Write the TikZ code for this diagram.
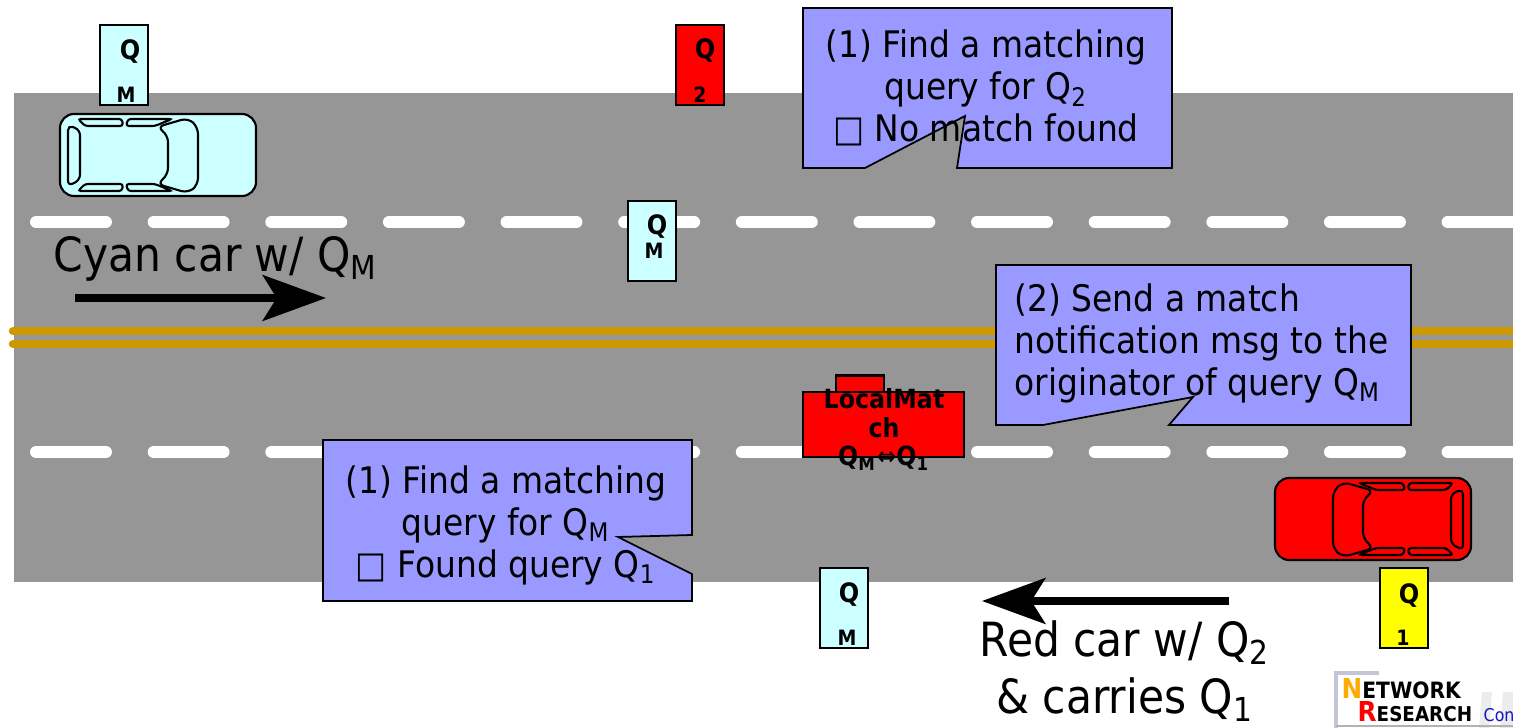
\documentclass[tikz,border=0pt]{standalone}
\usepackage{fontspec}
\setmainfont{DejaVu Sans}[FakeStretch=0.9]
\usetikzlibrary{arrows.meta}

\definecolor{roadgray}{RGB}{150,150,150}
\definecolor{laneyellow}{RGB}{204,153,0}
\definecolor{carcyan}{RGB}{204,255,255}
\definecolor{carred}{RGB}{255,0,0}
\definecolor{tagyellow}{RGB}{255,255,0}
\definecolor{calloutblue}{RGB}{153,153,255}
\definecolor{logoorange}{RGB}{255,170,0}
\definecolor{logoframe}{RGB}{195,198,212}
\definecolor{logoblue}{RGB}{20,20,200}

\tikzset{
  % top view of a car, front pointing to +x
  car/.pic={
    \path[pic actions, rounded corners=4pt] (-98,-41) rectangle (98,41);
    \path[pic actions, rounded corners=1.5pt] (-90,-30) -- (-78,-25) -- (-78,25) -- (-90,31) -- cycle;
    \path[pic actions, rounded corners=0.8pt] (-80,-36) -- (-36,-36) -- (-35,-29) -- (-73,-29) -- cycle;
    \path[pic actions, rounded corners=0.8pt] (-30,-36) -- (14,-36) -- (-3,-29) -- (-32,-29) -- cycle;
    \path[pic actions, rounded corners=0.8pt] (-80,36) -- (-36,36) -- (-35,29) -- (-73,29) -- cycle;
    \path[pic actions, rounded corners=0.8pt] (-30,36) -- (14,36) -- (-3,29) -- (-32,29) -- cycle;
    \path[pic actions, rounded corners=2pt] (-1,-28) -- (10,-20) -- (10,20) -- (-1,29) -- (30,38) -- (40,30) -- (40,-28) -- (30,-37) -- cycle;
  },
  qtag/.style={draw,line width=0.6pt,minimum width=0.48cm,minimum height=0.8cm,inner sep=0pt},
  qletter/.style={font=\bfseries\fontsize{7.6}{8}\selectfont,inner sep=0pt},
  qindex/.style={font=\bfseries\fontsize{6}{6}\selectfont,inner sep=0pt},
  callout/.style={draw,fill=calloutblue,line width=0.5pt},
  calltext/.style={font=\fontsize{10.4}{11.9}\selectfont,inner sep=0pt},
  bigtext/.style={font=\fontsize{13.4}{16.2}\selectfont,inner sep=0pt},
  movearrow/.style={line width=2pt,-{Stealth[length=18pt,width=13pt,inset=4pt]}},
  lanemark/.style={white,line width=3.4pt,line cap=round,dash pattern=on 19.9pt off 13.55pt},
  centerline/.style={laneyellow,line width=2.4pt,line cap=round},
}

\begin{document}
\begin{tikzpicture}[x=0.01cm,y=-0.01cm]
\useasboundingbox (0,0) rectangle (1513,728);

% road
\fill[roadgray] (14,93) rectangle (1520,582);
\draw[centerline] (13,331) -- (1525,331);
\draw[centerline] (13,344) -- (1525,344);
\draw[lanemark] (36,222) -- (1525,222);
\draw[lanemark] (36,452) -- (1525,452);

% cars
\pic[fill=carcyan,draw=black,line width=0.6pt] (cyanCar) at (158,155) {car};
\pic[fill=carred,draw=black,line width=0.6pt,xscale=-1] (redCar) at (1373,519) {car};

% query tags
\node[qtag,fill=carcyan] (tagA) at (124,65) {};
\node[qletter] (tagAq) at (130,52) {Q};
\node[qindex] (tagAs) at (126,95) {M};

\node[qtag,fill=carred] (tagB) at (700,65) {};
\node[qletter] (tagBq) at (705,51) {Q};
\node[qindex] (tagBs) at (700,95) {2};

\node[qtag,fill=carcyan] (tagC) at (652,241) {};
\node[qletter] (tagCq) at (657,227) {Q};
\node[qindex] (tagCs) at (654,251) {M};

\node[qtag,fill=carcyan] (tagD) at (844,608) {};
\node[qletter] (tagDq) at (849,595) {Q};
\node[qindex] (tagDs) at (847,638) {M};

\node[qtag,fill=tagyellow] (tagE) at (1404,608) {};
\node[qletter] (tagEq) at (1409,596) {Q};
\node[qindex] (tagEs) at (1403,638) {1};

% local match marker
\node[draw,fill=carred,line width=0.6pt,minimum width=0.48cm,minimum height=0.17cm,inner sep=0pt] (matchTab) at (860,384) {};
\node[draw,fill=carred,line width=0.6pt,minimum width=1.61cm,minimum height=0.65cm,inner sep=0pt] (matchBox) at (883.5,424.5) {};
\node[anchor=north,align=center,inner sep=0pt,font=\bfseries\fontsize{7.5}{8.1}\selectfont] (matchText) at (884,388)
  {LocalMat\\ch\\Q\textsubscript{M}{\mdseries ⇔}Q\textsubscript{1}};

% callouts
\draw[callout] (803,8) -- (1172,8) -- (1172,168) -- (957,168) -- (965,116) -- (865,168) -- (803,168) -- cycle;
\node[calltext,anchor=north,align=center] (askTwo) at (986,29)
  {(1) Find a matching\\query for Q\textsubscript{2}\\□ No match found};

\draw[callout] (996,265) -- (1411,265) -- (1411,425) -- (1169,425) -- (1193,397) -- (1043,425) -- (996,425) -- cycle;
\node[calltext,anchor=north west,align=left] (notify) at (1014,283)
  {(2) Send a match\\notification msg to the\\originator of query Q\textsubscript{M}};

\draw[callout] (323,440) -- (692,440) -- (692,535) -- (618,537) -- (692,574) -- (692,601) -- (323,601) -- cycle;
\node[calltext,anchor=north,align=center] (askM) at (506,465)
  {(1) Find a matching\\query for Q\textsubscript{M}\\□ Found query Q\textsubscript{1}};

% driving directions
\coordinate (cyanFrom) at (75,298);
\coordinate (cyanTo) at (326,298);
\draw[movearrow] (cyanFrom) -- (cyanTo);
\node[bigtext,anchor=base west] (cyanLabel) at (53,272) {Cyan car w/ Q\textsubscript{M}};

\coordinate (redFrom) at (1229,601);
\coordinate (redTo) at (982,601);
\draw[movearrow] (redFrom) -- (redTo);
\node[bigtext,anchor=north,align=center] (redLabel) at (1125,620) {Red car w/ Q\textsubscript{2}\\\& carries Q\textsubscript{1}};

% logo corner
\fill[gray!15] (1482,692) -- (1492,692) -- (1489,728) -- (1479,728) -- cycle;
\fill[gray!15] (1503,692) -- (1513,692) -- (1513,728) -- (1500,728) -- cycle;
\draw[logoframe,line width=1pt] (1336,728) -- (1336,673) -- (1379,673);
\draw[gray!60,line width=0.8pt] (1336,726) -- (1513,726);
\node[anchor=base west,inner sep=0pt,font=\bfseries\fontsize{6.4}{6.4}\selectfont] (logoTop) at (1341,698)
  {\textcolor{logoorange}{\fontsize{7.8}{7.8}\selectfont N}ETWORK};
\node[anchor=base west,inner sep=0pt,font=\bfseries\fontsize{5.8}{5.8}\selectfont] (logoBottom) at (1357,721)
  {\textcolor{carred}{\fontsize{7.8}{7.8}\selectfont R}ESEARCH};
\node[anchor=base west,inner sep=0pt,text=logoblue,font=\fontsize{5}{5}\selectfont] (logoTail) at (1483,721) {Con};
\end{tikzpicture}
\end{document}
